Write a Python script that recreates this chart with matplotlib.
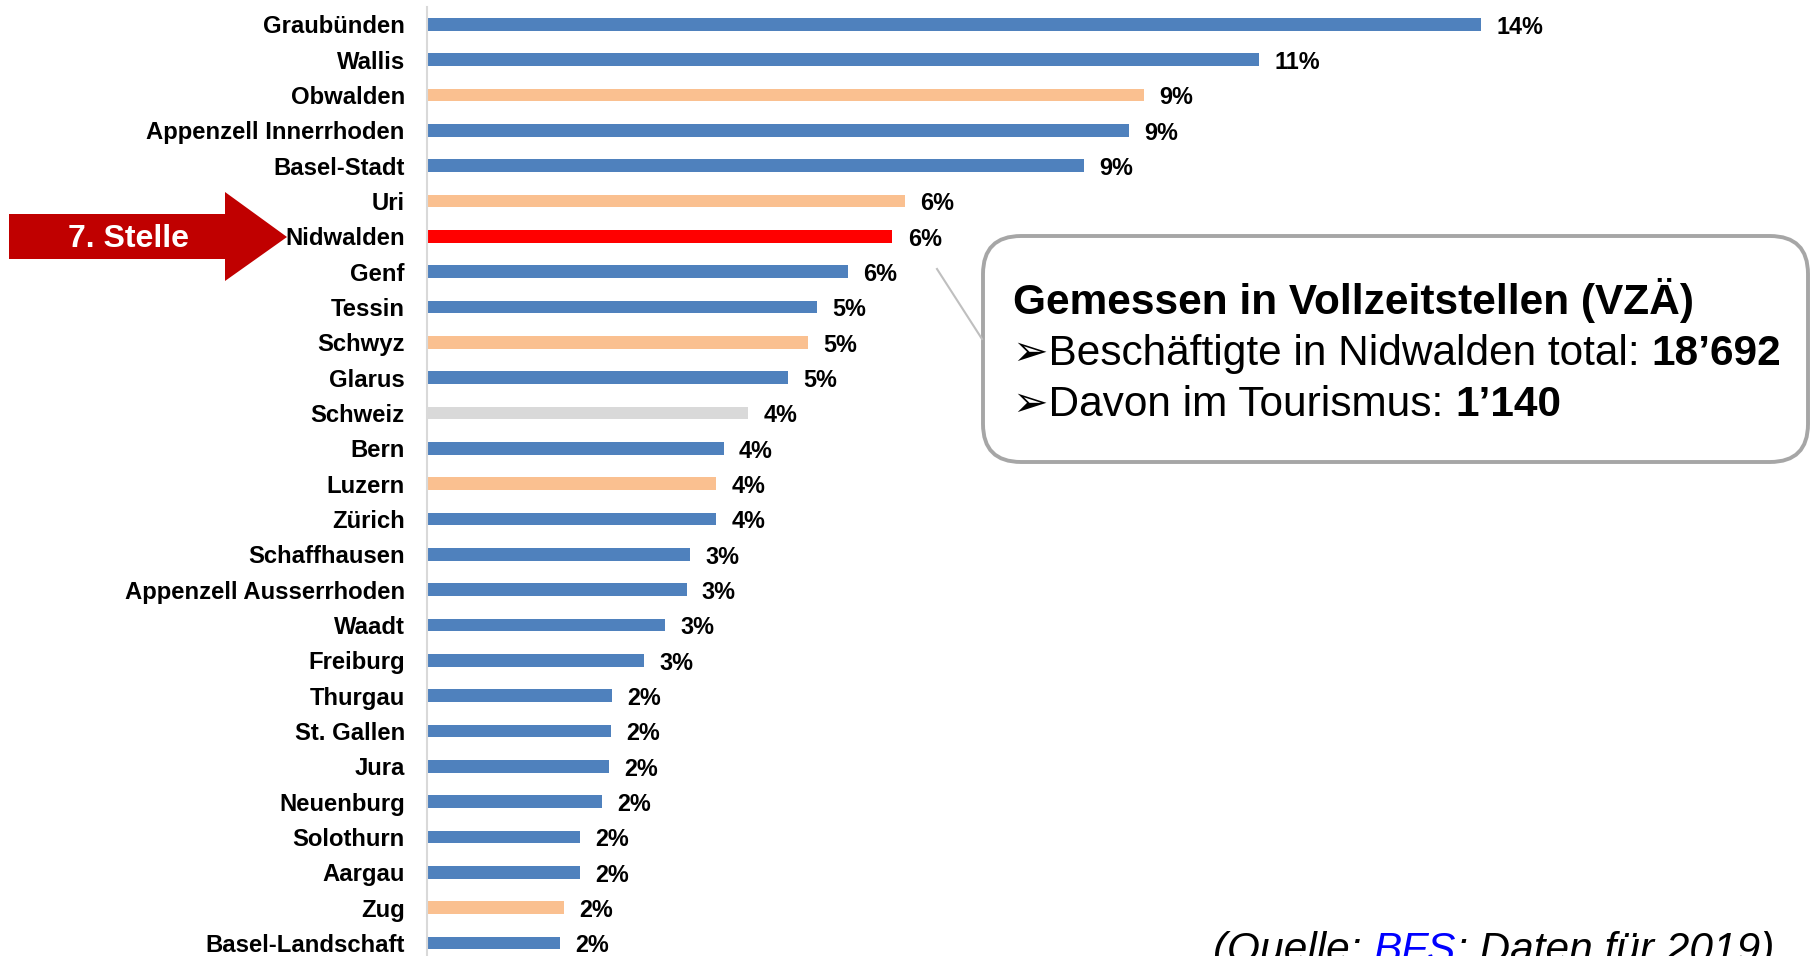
import matplotlib
matplotlib.use("Agg")
import matplotlib.pyplot as plt
from matplotlib.patches import Polygon, FancyBboxPatch
from matplotlib.lines import Line2D

plt.rcParams['font.family'] = ['Liberation Sans', 'DejaVu Sans']

# ---- data ----
cantons = ["Graubünden", "Wallis", "Obwalden", "Appenzell Innerrhoden", "Basel-Stadt",
           "Uri", "Nidwalden", "Genf", "Tessin", "Schwyz", "Glarus", "Schweiz", "Bern",
           "Luzern", "Zürich", "Schaffhausen", "Appenzell Ausserrhoden", "Waadt",
           "Freiburg", "Thurgau", "St. Gallen", "Jura", "Neuenburg", "Solothurn",
           "Aargau", "Zug", "Basel-Landschaft"]
shares = [13.88, 10.96, 9.44, 9.25, 8.65, 6.29, 6.13, 5.54, 5.14, 5.02, 4.76, 4.23, 3.91,
          3.81, 3.81, 3.46, 3.42, 3.14, 2.86, 2.44, 2.42, 2.40, 2.30, 2.02, 2.02, 1.81, 1.75]
groups = ["other", "other", "central", "other", "other", "central", "nw", "other", "other",
          "central", "other", "ch", "other", "central", "other", "other", "other", "other",
          "other", "other", "other", "other", "other", "other", "other", "central", "other"]
group_colors = {"other": "#4F81BD", "central": "#FAC090", "nw": "#FF0000", "ch": "#D9D9D9"}

W, H = 1812, 956
fig = plt.figure(figsize=(W / 100, H / 100), dpi=100)

# main axes in pixel-based placement
ax_left, ax_top, ax_bottom = 427, 6.6, 960.7
ax = fig.add_axes([ax_left / W, (H - ax_bottom) / H, (W - ax_left) / W, (ax_bottom - ax_top) / H])
ypos = list(range(len(cantons)))
ax.barh(ypos, shares, height=0.36, color=[group_colors[g] for g in groups], zorder=2)
ax.set_ylim(len(cantons) - 0.5, -0.5)
ax.set_xlim(0, (W - ax_left) / 75.92)
ax.set_yticks(ypos)
ax.set_yticklabels(cantons, fontsize=17.2, fontweight='bold')
ax.set_xticks([])
ax.tick_params(axis='y', length=0, pad=16)
for s in ["top", "right", "bottom"]:
    ax.spines[s].set_visible(False)
ax.spines["left"].set_color("#D9D9D9")
ax.spines["left"].set_linewidth(1.5)
for y, v in zip(ypos, shares):
    ax.annotate(f"{v:.0f}%", xy=(v, y), xytext=(11, -2), textcoords="offset points",
                ha="left", va="center", fontsize=16.8, fontweight="bold")

# overlay axes in pixel coordinates (y downward)
ov = fig.add_axes([0, 0, 1, 1], zorder=5)
ov.set_xlim(0, W)
ov.set_ylim(H, 0)
ov.axis("off")

# red arrow "7. Stelle"
arrow = Polygon([(9, 214), (225, 214), (225, 192), (287, 237), (225, 281), (225, 259), (9, 259)],
                closed=True, facecolor="#C00000", edgecolor="none")
ov.add_patch(arrow)
ov.text(128, 239, "7. Stelle", color="white", fontsize=23, fontweight="bold",
        ha="center", va="center")

# callout tail
ov.add_line(Line2D([937, 982], [269, 339], color="#BFBFBF", lw=1.5))

# callout box
box = FancyBboxPatch((983, 236), 1808 - 983, 462 - 236,
                     boxstyle="round,pad=0,rounding_size=38",
                     facecolor="white", edgecolor="#A6A6A6", lw=2.8)
ov.add_patch(box)

fs = 30.5
ov.text(1013, 314, "Gemessen in Vollzeitstellen (VZÄ)", fontsize=fs, fontweight="bold",
        ha="left", va="baseline")
t1 = ov.text(1013, 365, "➢Beschäftigte in Nidwalden total: ", fontsize=fs,
             ha="left", va="baseline")
ov.annotate("18’692", xy=(1, 0), xycoords=t1, fontsize=fs, fontweight="bold",
            ha="left", va="bottom")
t2 = ov.text(1013, 416, "➢Davon im Tourismus: ", fontsize=fs, ha="left", va="baseline")
ov.annotate("1’140", xy=(1, 0), xycoords=t2, fontsize=fs, fontweight="bold",
            ha="left", va="bottom")

# source line (partly cut at bottom, as in the reference)
s1 = ov.text(1213, 962, "(Quelle: ", fontsize=fs, style="italic", ha="left", va="baseline")
s2 = ov.annotate("BFS", xy=(1, 0), xycoords=s1, fontsize=fs, style="italic",
                 color="#0000FF", ha="left", va="bottom")
ov.annotate("; Daten für 2019)", xy=(1, 0), xycoords=s2, fontsize=fs, style="italic",
            ha="left", va="bottom")

fig.savefig("out.png", dpi=100)
